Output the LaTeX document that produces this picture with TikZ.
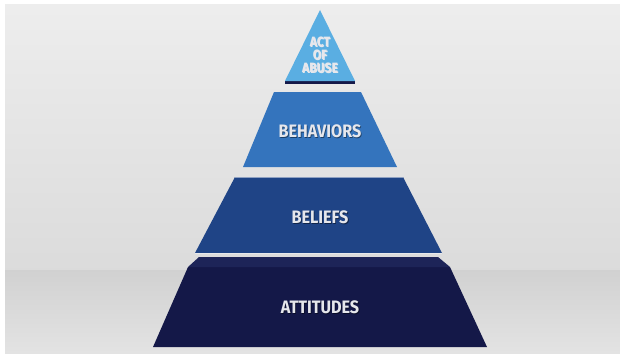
\documentclass[tikz,border=0pt]{standalone}
\usepackage{fontspec}
\newfontfamily\tierfont{Fira Sans}[FakeStretch=0.9]
\usetikzlibrary{positioning}
\definecolor{apexblue}{HTML}{5AAEE2}
\definecolor{behavblue}{HTML}{3474BD}
\definecolor{beliefblue}{HTML}{1F4486}
\definecolor{attnavy}{HTML}{141848}
\definecolor{bevelnavy}{HTML}{1D2458}
\definecolor{textgray}{HTML}{E6E7EC}

\begin{document}
\begin{tikzpicture}[x=1pt,y=-1pt]
\tikzstyle{tiertext}=[font=\tierfont\bfseries\fontsize{18}{18}\selectfont,
	text=textgray, inner sep=0pt, align=center
]
\tikzstyle{tiershadow}=[tiertext, text=black, opacity=0.45]
\tikzstyle{apextext}=[tiertext, font=\tierfont\bfseries\fontsize{13.5}{13}\selectfont]
\useasboundingbox (0,0) rectangle (620,353);
\fill[white] (0,0) rectangle (620,353);
% wall and floor
\shade[top color=black!7, bottom color=black!14] (5,5) rectangle (620,270);
\shade[top color=black!18, bottom color=black!11] (5,270) rectangle (620,353);
% tiers
\fill[attnavy] (188,267) -- (450,267) -- (487,347) -- (153,347) -- cycle;
\fill[bevelnavy] (199,257) -- (438,257) -- (450,267) -- (188,267) -- cycle;
\fill[beliefblue] (235,177) -- (403,177) -- (442,253) -- (195,253) -- cycle;
\draw[white, opacity=0.5, line width=0.6pt] (235,177.3) -- (403,177.3);
\draw[white, opacity=0.6, line width=0.8pt] (195,253.5) -- (442,253.5);
\fill[behavblue] (274,92) -- (361,92) -- (397,167) -- (243,167) -- cycle;
\fill[attnavy] (285,81) -- (355,81) -- (355,84) -- (285,84) -- cycle;
\fill[apexblue] (320,10) -- (355,81) -- (285,81) -- cycle;
% labels
\node[apextext] (abuseshadow) at (320.8,55.8) {ACT\\OF\\ABUSE};
\node[apextext] (abuse) at (320,55) {ACT\\OF\\ABUSE};
\node[tiershadow] (behaviorsshadow) at (320.8,131.8) {BEHAVIORS};
\node[tiertext] (behaviors) at (320,131) {BEHAVIORS};
\node[tiershadow] (beliefsshadow) at (320.8,217.8) {BELIEFS};
\node[tiertext] (beliefs) at (320,217) {BELIEFS};
\node[tiershadow] (attitudesshadow) at (320.8,307.8) {ATTITUDES};
\node[tiertext] (attitudes) at (320,307) {ATTITUDES};
\end{tikzpicture}
\end{document}
